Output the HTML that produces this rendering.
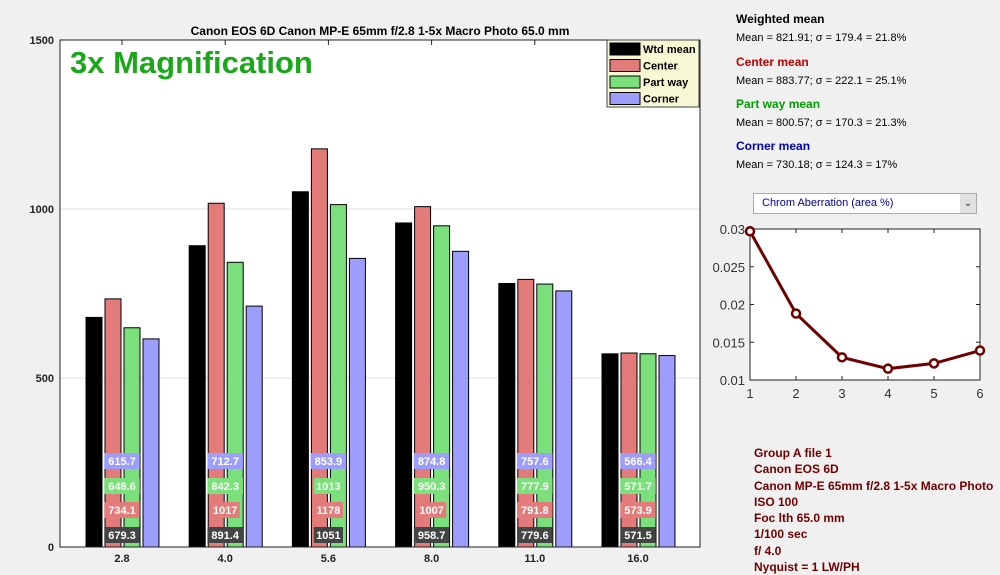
<!DOCTYPE html>
<html><head><meta charset="utf-8"><style>
body{margin:0;width:1000px;height:570px;background:#f0f0f0;font-family:"Liberation Sans",sans-serif;overflow:hidden;position:relative}
.t{position:absolute;white-space:nowrap}
</style></head><body>
<svg width="1000" height="570" style="position:absolute;left:0;top:0">
<g id="main"></g>
<g id="small"></g>
</svg>
<div class="t" style="left:736px;top:12px;font-size:12px;font-weight:bold;color:#000">Weighted mean</div>
<div class="t" style="left:736px;top:32px;font-size:11px">Mean = 821.91;  σ = 179.4 = 21.8%</div>
<div class="t" style="left:736px;top:55px;font-size:12px;font-weight:bold;color:#c00000">Center mean</div>
<div class="t" style="left:736px;top:75px;font-size:11px">Mean = 883.77;  σ = 222.1 = 25.1%</div>
<div class="t" style="left:736px;top:97px;font-size:12px;font-weight:bold;color:#00a000">Part way mean</div>
<div class="t" style="left:736px;top:117px;font-size:11px">Mean = 800.57;  σ = 170.3 = 21.3%</div>
<div class="t" style="left:736px;top:139px;font-size:12px;font-weight:bold;color:#0000c0">Corner mean</div>
<div class="t" style="left:736px;top:159px;font-size:11px">Mean = 730.18;  σ = 124.3 = 17%</div>
<div style="position:absolute;left:753px;top:193px;width:222px;height:19px;background:#fff;border:1px solid #aaa;font-size:11px;color:#0000a0;line-height:19px"><span style="margin-left:8px">Chrom Aberration (area %)</span><span style="position:absolute;right:0;top:0;width:16px;height:19px;background:#e1e1e1;color:#333;text-align:center;font-size:10px">⌄</span></div>
<div class="t" style="left:754px;top:445px;font-size:12px;font-weight:bold;color:#700000;line-height:16.3px">Group A file 1<br>Canon EOS 6D<br>Canon MP-E 65mm f/2.8 1-5x Macro Photo<br>ISO  100<br>Foc lth  65.0 mm<br>1/100  sec<br>f/  4.0<br>Nyquist = 1 LW/PH</div>
<script>
const categories=["2.8","4.0","5.6","8.0","11.0","16.0"];
const wtd=[679.3,891.4,1051,958.7,779.6,571.5];
const center=[734.1,1017,1178,1007,791.8,573.9];
const partway=[648.6,842.3,1013,950.3,777.9,571.7];
const corner=[615.7,712.7,853.9,874.8,757.6,566.4];
const yTicks=[0,500,1000,1500];
const caX=[1,2,3,4,5,6];
const caY=[0.0297,0.0188,0.0130,0.0115,0.0122,0.0139];
const caTicksY=[0.01,0.015,0.02,0.025,0.03];
const NS="http://www.w3.org/2000/svg";
function mk(p,tag,a){const e=document.createElementNS(NS,tag);for(const k in a)e.setAttribute(k,a[k]);p.appendChild(e);return e;}
const g=document.getElementById('main');
const L=60,R=700,T=40,B=547;
const y=v=>B-(v/1500)*(B-T);
const xc=i=>122+i*103.2;
let r=mk(g,'rect',{x:L,y:T,width:R-L,height:B-T,fill:'#fff'});

yTicks.forEach(v=>{
 if(v>0&&v<1500){const l=mk(g,'line',{x1:L,x2:R,y1:y(v),y2:y(v),stroke:'#e0e0e0'});}
 const t=mk(g,'text',{x:L-6,y:y(v)+4,'text-anchor':'end','font-size':11,'font-weight':'bold',fill:'#222'});t.textContent=v;
 
});
const series=[[wtd,'#000',-28],[center,'#e47b7b',-9],[partway,'#7be07b',10],[corner,'#9d9dfb',29]];
categories.forEach((c,i)=>{
 series.forEach(([arr,col,off])=>{
  const b=mk(g,'rect',{x:xc(i)+off-8,y:y(arr[i]),width:16,height:B-y(arr[i]),fill:col,stroke:'#000','stroke-width':1});
  
 });
 const lab=[[wtd,'#444',535],[center,'#e47b7b',510],[partway,'#7be07b',486],[corner,'#9d9dfb',461]];
 lab.forEach(([arr,col,cy])=>{
  const s=String(arr[i]);const w=s.length*6.3+4;
  const bx=mk(g,'rect',{x:xc(i)-w/2,y:cy-8,width:w,height:16,fill:col});
  
  const t=mk(g,'text',{x:xc(i),y:cy+4,'text-anchor':'middle','font-size':11,'font-weight':'bold',fill:'#fff'});t.textContent=s;
  
 });
 const tk=mk(g,'line',{x1:xc(i),x2:xc(i),y1:T,y2:T+5,stroke:'#222'});
 const t=mk(g,'text',{x:xc(i),y:562,'text-anchor':'middle','font-size':11,'font-weight':'bold',fill:'#222'});t.textContent=c;
 
});
r=mk(g,'rect',{x:L,y:T,width:R-L,height:B-T,fill:'none',stroke:'#222'});

let t=mk(g,'text',{x:380,y:35,'text-anchor':'middle','font-size':12,'font-weight':'bold',fill:'#000'});t.textContent='Canon EOS 6D  Canon MP-E 65mm f/2.8 1-5x Macro Photo  65.0 mm';

t=mk(g,'text',{x:70,y:73,'font-size':31,'font-weight':'bold',fill:'#1aa81a'});t.textContent='3x Magnification';

const lg=mk(g,'g',{});
mk(lg,'rect',{x:607,y:40,width:92,height:67,fill:'#f7f7d4',stroke:'#444'});
[['Wtd mean','#000'],['Center','#e47b7b'],['Part way','#7be07b'],['Corner','#9d9dfb']].forEach(([n,col],k)=>{
 const e=mk(lg,'rect',{x:610,y:43+k*16.5,width:30,height:12,fill:col,stroke:'#000'});
 
 const tt=mk(lg,'text',{x:643,y:53+k*16.5,'font-size':11,'font-weight':'bold',fill:'#000'});tt.textContent=n;
 
});
// small chart
const s=document.getElementById('small');
const sL=750,sR=980,sT=229,sB=380;
const sx=v=>sL+(v-1)/5*(sR-sL);
const sy=v=>sB-(v-0.01)/0.02*(sB-sT);
r=mk(s,'rect',{x:sL,y:sT,width:sR-sL,height:sB-sT,fill:'#fff',stroke:'#222'});

caTicksY.forEach(v=>{
 mk(s,'line',{x1:sL,x2:sL+4,y1:sy(v),y2:sy(v),stroke:'#222'});mk(s,'line',{x1:sR-4,x2:sR,y1:sy(v),y2:sy(v),stroke:'#222'});
 const tt=mk(s,'text',{x:sL-5,y:sy(v)+5,'text-anchor':'end','font-size':13,fill:'#333'});tt.textContent=String(v);
 
});
caX.forEach(v=>{
 mk(s,'line',{x1:sx(v),x2:sx(v),y1:sB,y2:sB-4,stroke:'#222'});mk(s,'line',{x1:sx(v),x2:sx(v),y1:sT,y2:sT+4,stroke:'#222'});
 const tt=mk(s,'text',{x:sx(v),y:sB+18,'text-anchor':'middle','font-size':13,fill:'#333'});tt.textContent=v;
 
});
const pl=mk(s,'polyline',{points:caX.map((v,i)=>sx(v)+','+sy(caY[i])).join(' '),fill:'none',stroke:'#6e0000','stroke-width':3});

caX.forEach((v,i)=>{const c=mk(s,'circle',{cx:sx(v),cy:sy(caY[i]),r:4,fill:'#fff',stroke:'#6e0000','stroke-width':2.5});
 });
</script>
</body></html>
